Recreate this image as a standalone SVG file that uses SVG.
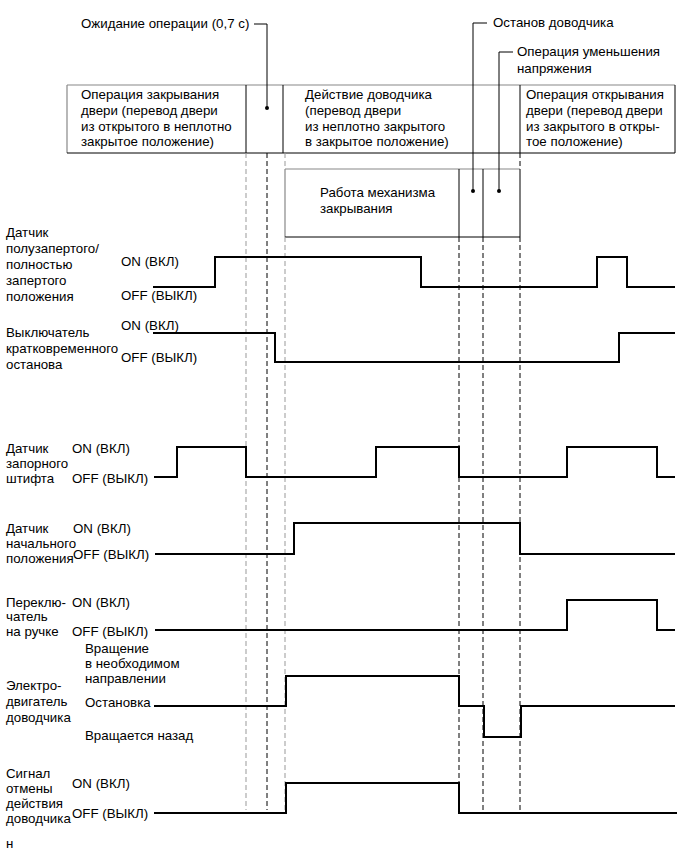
<svg xmlns="http://www.w3.org/2000/svg" width="691" height="854" viewBox="0 0 691 854">
<style>
text{font-family:"Liberation Sans",Arial,sans-serif;font-size:13.3px;fill:#000}
.box{fill:none;stroke:#000;stroke-width:1}
.gbox{fill:none;stroke:#888;stroke-width:1.2}
.ln{fill:none;stroke:#000;stroke-width:1}
.dash{fill:none;stroke:#000;stroke-width:1;stroke-dasharray:5,3}
.gdash{fill:none;stroke:#999;stroke-width:1;stroke-dasharray:5,3}
.sig{fill:none;stroke:#000;stroke-width:2;stroke-linejoin:miter}
</style>
<rect width="691" height="854" fill="#fff"/>

<g id="phases">
  <line class="gbox" x1="67" y1="85" x2="675" y2="85"/>
  <line class="gbox" x1="67" y1="85" x2="67" y2="153"/>
  <line class="box" x1="67" y1="153" x2="675" y2="153"/>
  <line class="box" x1="675" y1="85" x2="675" y2="153"/>
  <line class="box" x1="246" y1="85" x2="246" y2="153"/>
  <line class="box" x1="283" y1="85" x2="283" y2="153"/>
  <line class="box" x1="520" y1="85" x2="520" y2="153"/>
  <text x="81" y="99">Операция закрывания</text>
  <text x="81" y="115">двери (перевод двери</text>
  <text x="81" y="130.5">из открытого в неплотно</text>
  <text x="81" y="146">закрытое положение)</text>
  <text x="305" y="99">Действие доводчика</text>
  <text x="305" y="115">(перевод двери</text>
  <text x="305" y="130.5">из неплотно закрытого</text>
  <text x="305" y="146">в закрытое положение)</text>
  <text x="526" y="99">Операция открывания</text>
  <text x="526" y="115">двери (перевод двери</text>
  <text x="526" y="130.5">из закрытого в откры-</text>
  <text x="526" y="146">тое положение)</text>
</g>

<g id="mechanism">
  <line class="gbox" x1="285" y1="169" x2="520" y2="169"/>
  <line class="gbox" x1="285" y1="169" x2="285" y2="237"/>
  <line class="box" x1="285" y1="237" x2="520" y2="237"/>
  <line class="box" x1="520" y1="169" x2="520" y2="237"/>
  <line class="box" x1="459" y1="169" x2="459" y2="237"/>
  <line class="box" x1="483" y1="169" x2="483" y2="237"/>
  <text x="320" y="197">Работа механизма</text>
  <text x="320" y="213">закрывания</text>
</g>

<g id="callouts">
  <text x="81" y="28">Ожидание операции (0,7 с)</text>
  <polyline class="ln" points="254,24 267,24 267,108"/>
  <circle cx="267" cy="108" r="2" fill="#000"/>
  <text x="493" y="27">Останов доводчика</text>
  <polyline class="ln" points="487,23 473,23 473,191"/>
  <circle cx="473" cy="191" r="2" fill="#000"/>
  <text x="517" y="56">Операция уменьшения</text>
  <text x="517" y="73">напряжения</text>
  <polyline class="ln" points="513,52 499,52 499,191"/>
  <circle cx="499" cy="191" r="2" fill="#000"/>
</g>

<g id="guides">
  <line class="gdash" x1="246" y1="153" x2="246" y2="810"/>
  <line class="dash" x1="267" y1="153" x2="267" y2="810"/>
  <line class="gdash" x1="285" y1="153" x2="285" y2="169"/>
  <line class="gdash" x1="285" y1="237" x2="285" y2="810"/>
  <line class="dash" x1="459" y1="237" x2="459" y2="813"/>
  <line class="dash" x1="483" y1="237" x2="483" y2="813"/>
  <line class="dash" x1="520" y1="153" x2="520" y2="169"/>
  <line class="dash" x1="520" y1="237" x2="520" y2="813"/>
</g>

<g id="sig-half-lock">
  <text x="6" y="237">Датчик</text>
  <text x="6" y="253">полузапертого/</text>
  <text x="6" y="269">полностью</text>
  <text x="6" y="285">запертого</text>
  <text x="6" y="301">положения</text>
  <text x="121" y="266">ON (ВКЛ)</text>
  <text x="121" y="300">OFF (ВЫКЛ)</text>
  <polyline class="sig" points="153,287 215,287 215,257 421,257 421,287 597,287 597,257 627,257 627,287 675,287"/>
</g>

<g id="sig-courtesy">
  <text x="6" y="337">Выключатель</text>
  <text x="6" y="353">кратковременного</text>
  <text x="6" y="369">останова</text>
  <text x="121" y="330">ON (ВКЛ)</text>
  <text x="121" y="362">OFF (ВЫКЛ)</text>
  <polyline class="sig" points="153,333 275,333 275,362 619,362 619,333 675,333"/>
</g>

<g id="sig-latch-pin">
  <text x="6" y="453">Датчик</text>
  <text x="6" y="468">запорного</text>
  <text x="6" y="483">штифта</text>
  <text x="72" y="453">ON (ВКЛ)</text>
  <text x="72" y="483">OFF (ВЫКЛ)</text>
  <polyline class="sig" points="154,477 177,477 177,447 246,447 246,477 376,477 376,447 459,447 459,477 567,477 567,447 657,447 657,477 675,477"/>
</g>

<g id="sig-neutral">
  <text x="6" y="533">Датчик</text>
  <text x="6" y="548">начального</text>
  <text x="6" y="563">положения</text>
  <text x="73" y="533">ON (ВКЛ)</text>
  <text x="73" y="559">OFF (ВЫКЛ)</text>
  <polyline class="sig" points="155,554 294,554 294,523 520,523 520,554 675,554"/>
</g>

<g id="sig-handle">
  <text x="6" y="607">Переклю-</text>
  <text x="6" y="621">чатель</text>
  <text x="6" y="636">на ручке</text>
  <text x="72" y="607">ON (ВКЛ)</text>
  <text x="72" y="636">OFF (ВЫКЛ)</text>
  <polyline class="sig" points="155,630 567,630 567,600 657,600 657,630 675,630"/>
</g>

<g id="sig-motor">
  <text x="6" y="690">Электро-</text>
  <text x="6" y="706">двигатель</text>
  <text x="6" y="722">доводчика</text>
  <text x="85" y="653">Вращение</text>
  <text x="85" y="668">в необходимом</text>
  <text x="85" y="683">направлении</text>
  <text x="85" y="707">Остановка</text>
  <text x="85" y="740">Вращается назад</text>
  <polyline class="sig" points="154,706 286,706 286,676 459,676 459,706 484,706 484,737 521,737 521,706 675,706"/>
</g>

<g id="sig-cancel">
  <text x="6" y="778">Сигнал</text>
  <text x="6" y="793">отмены</text>
  <text x="6" y="808">действия</text>
  <text x="6" y="823">доводчика</text>
  <text x="72" y="788">ON (ВКЛ)</text>
  <text x="72" y="818">OFF (ВЫКЛ)</text>
  <polyline class="sig" points="154,813 286,813 286,783 459,783 459,813 677,813"/>
</g>

<text x="6" y="848">н</text>
</svg>
